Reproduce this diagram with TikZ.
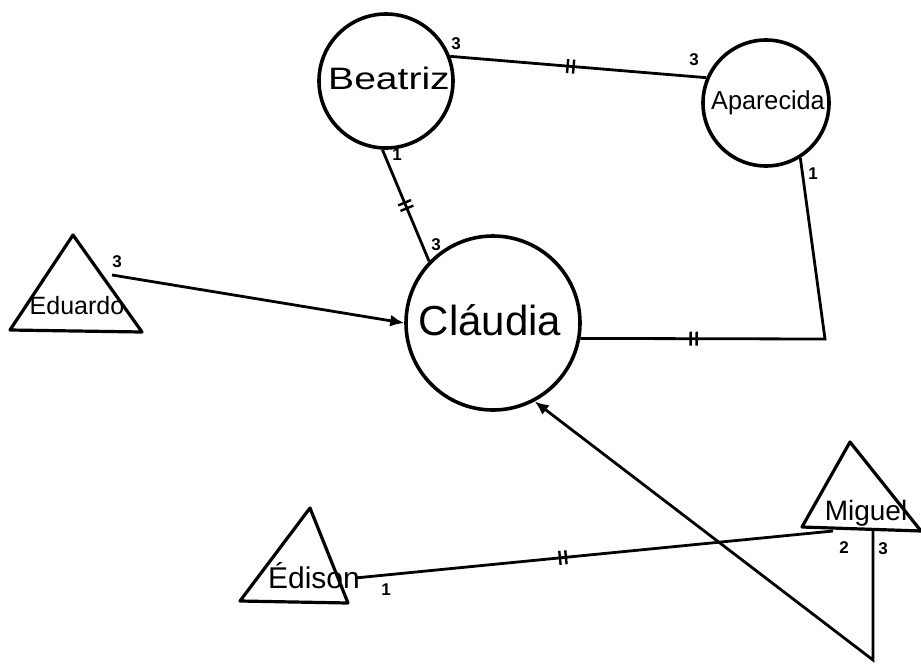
\documentclass[tikz,border=0pt]{standalone}
\usepackage{fontspec}
\setmainfont{Liberation Sans}
\usetikzlibrary{arrows.meta,decorations.markings}
\newcommand{\hwx}[2]{\scalebox{#1}[1]{#2}}
\begin{document}
\begin{tikzpicture}[x=1pt,y=-1pt,
  person/.style={circle,draw,line width=3.6pt,inner sep=0pt},
  tri/.style={draw,line width=3.2pt,line join=round},
  link/.style={line width=2.8pt},
  arr/.style={link,-{Latex[length=14pt,width=12pt]}},
  num/.style={font=\bfseries\fontsize{17}{17}\selectfont,inner sep=0pt},
  dtick/.style={postaction={decorate},decoration={markings,
     mark=at position #1 with {\draw[line width=2.4pt] (-3pt,-7pt)--(-3pt,7pt) (3pt,-7pt)--(3pt,7pt);}}}
]
\useasboundingbox (0,0) rectangle (921,667);
% circles
\node[person,minimum size=134pt] (bea) at (386,81) {};
\node[person,minimum size=126pt] (apa) at (766,103) {};
\node[person,minimum size=174pt] (cla) at (493,323) {};
\node[font=\fontsize{31}{31}\selectfont] (beaT) at (389,78) {\hwx{1.26}{Beatriz}};
\node[font=\fontsize{26}{26}\selectfont] (apaT) at (768,103) {\hwx{0.97}{Aparecida}};
\node[font=\fontsize{42}{42}\selectfont] (claT) at (490,320) {Cláudia};
% triangles
\draw[tri] (73,235) -- (142,332) -- (10,330) -- cycle;
\node[font=\fontsize{25}{25}\selectfont] (edu) at (77,306) {Eduardo};
\draw[tri] (310,508) -- (348,603) -- (240,601) -- cycle;
\node[font=\fontsize{30}{30}\selectfont] (edi) at (314,576) {Édison};
\draw[tri] (850,442) -- (921,531) -- (802,527) -- cycle;
\node[font=\fontsize{28}{28}\selectfont] (mig) at (866,513) {Miguel};
% connection points
\coordinate (eduR) at (112,275);
\coordinate (ediR) at (355,578);
\coordinate (migL) at (833,531);
\coordinate (migB) at (873,531);
\coordinate (migD) at (873,660);
\coordinate (apcorner) at (825,339);
% links
\draw[link,dtick=0.47] (bea.21) -- (apa.157);
\draw[link,dtick=0.5] (bea.267) -- (cla.136);
\draw[link,dtick=0.735] (apa.302) -- (apcorner) -- (cla.350);
\draw[arr] (eduR) -- (cla.west);
\draw[link,dtick=0.435] (ediR) -- (migL);
\draw[arr] (migB) -- (migD) -- (cla.298);
% numbers
\node[num] (n1) at (456,44) {3};
\node[num] (n2) at (694,60) {3};
\node[num] (n3) at (397,155) {1};
\node[num] (n4) at (436,245) {3};
\node[num] (n5) at (813,174) {1};
\node[num] (n6) at (117,262) {3};
\node[num] (n7) at (386,590) {1};
\node[num] (n8) at (844,548) {2};
\node[num] (n9) at (883,549) {3};
\end{tikzpicture}
\end{document}
